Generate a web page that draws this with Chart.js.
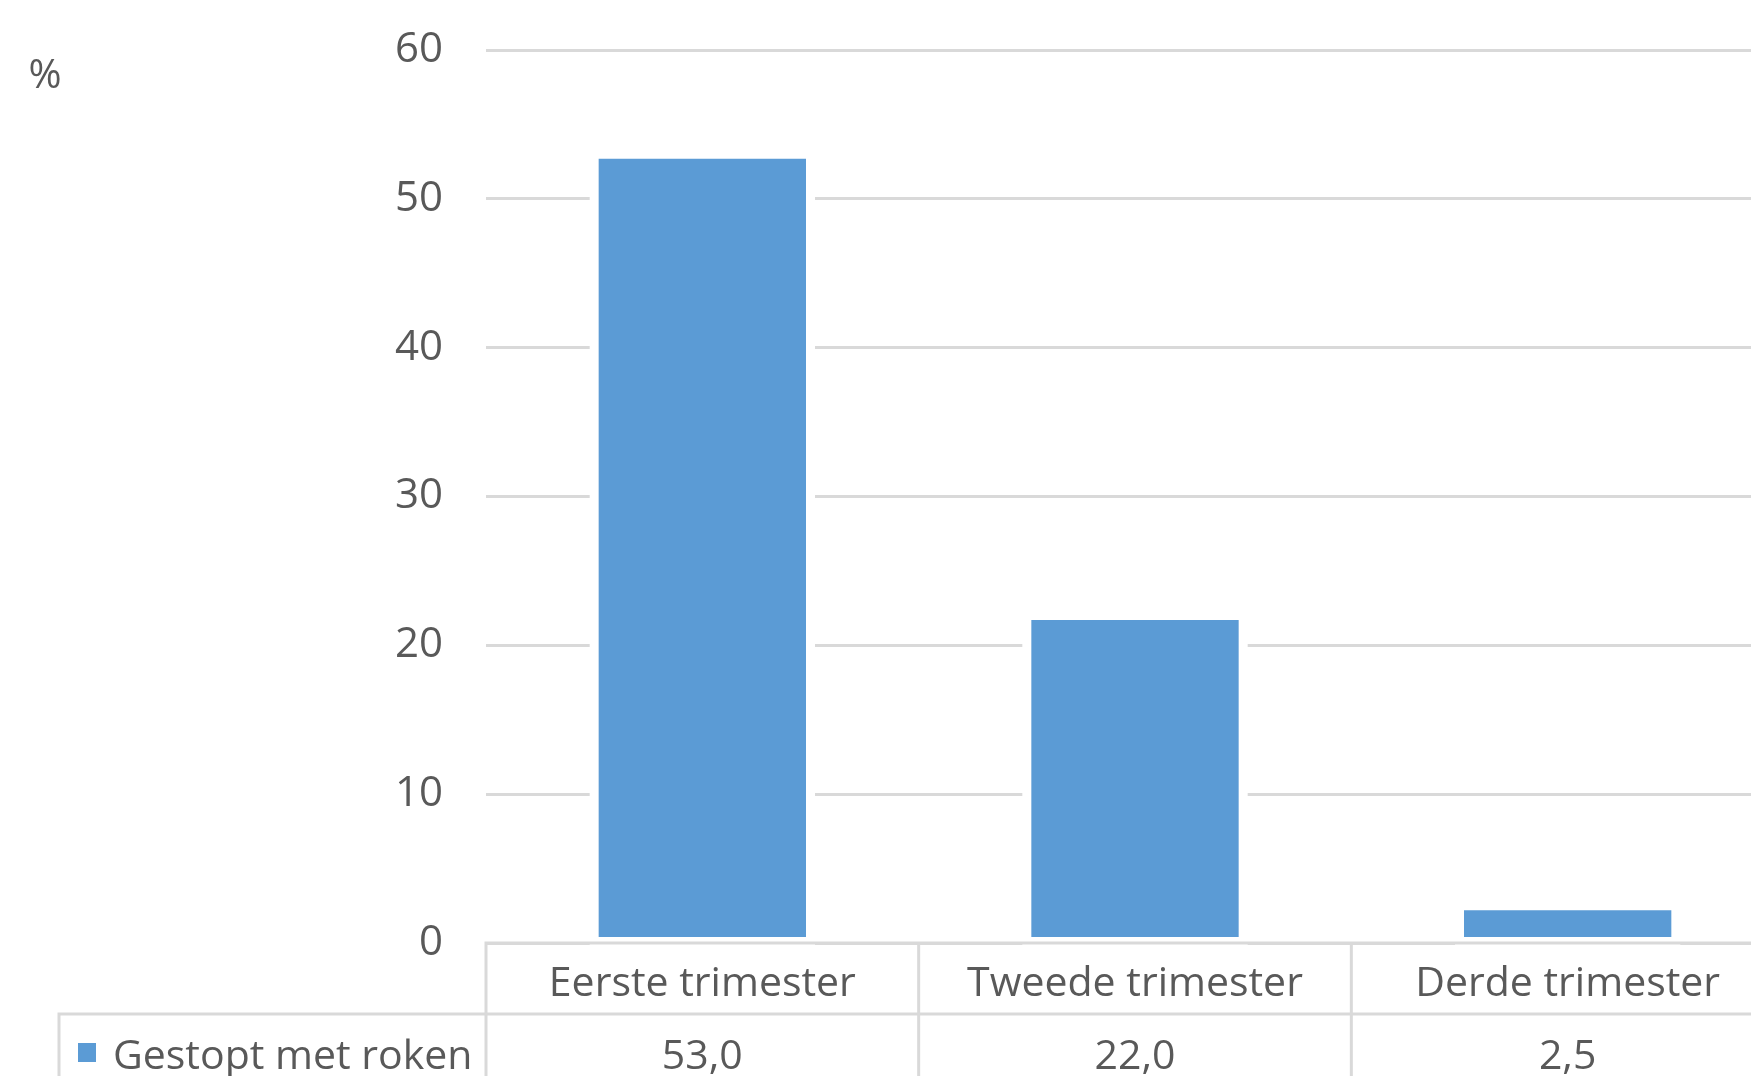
<!DOCTYPE html>
<html><head><meta charset="utf-8">
<script src="https://cdn.jsdelivr.net/npm/chart.js@4"></script>
<style>
html,body{margin:0;padding:0;overflow:hidden;background:#fff;}
#wrap{position:absolute;left:0;top:0;width:1784px;height:1076px;}
</style></head><body>
<div id="wrap"><canvas id="c"></canvas></div>
<script>
const categories = ['Eerste trimester', 'Tweede trimester', 'Derde trimester'];
const seriesName = 'Gestopt met roken';
const values = [53.0, 22.0, 2.5];
const yMin = 0, yMax = 60, yStep = 10;
const unitLabel = '%';

const FONT = '"Open Sans", "DejaVu Sans", sans-serif';
const TXT = '#595959';
const GRID = '#d9d9d9';
const BAR = '#5b9bd5';

function fmt(v) { return v.toFixed(1).replace('.', ','); }

const tablePlugin = {
  id: 'tbl',
  beforeDatasetsDraw(chart) {
    const ctx = chart.ctx;
    const meta = chart.getDatasetMeta(0);
    ctx.save();
    ctx.fillStyle = '#fff';
    meta.data.forEach(el => {
      const p = el.getProps(['x', 'y', 'base', 'width'], true);
      ctx.fillRect(p.x - p.width / 2 - 4.5, Math.min(p.y, p.base) - 4.5, p.width + 9, Math.abs(p.base - p.y) + 9);
    });
    ctx.restore();
  },
  afterDraw(chart) {
    const ctx = chart.ctx;
    const xs = chart.scales.x;
    const W = chart.width;
    const top = chart.chartArea.bottom;
    const rowY = top + 71;
    const n = categories.length;
    const cw = (xs.right - xs.left) / n;
    ctx.save();
    ctx.strokeStyle = GRID;
    ctx.lineWidth = 3;
    ctx.beginPath();
    ctx.moveTo(xs.left - 1.5, top); ctx.lineTo(W, top);
    for (let i = 0; i <= n; i++) {
      const bx = xs.left + i * cw;
      ctx.moveTo(bx, top); ctx.lineTo(bx, chart.height);
    }
    ctx.moveTo(59, rowY); ctx.lineTo(W, rowY);
    ctx.moveTo(59, rowY - 1.5); ctx.lineTo(59, chart.height);
    ctx.stroke();

    ctx.fillStyle = TXT;
    ctx.textBaseline = 'middle';
    ctx.textAlign = 'center';
    ctx.font = '41px ' + FONT;
    categories.forEach((c, i) => {
      const cx = xs.getPixelForValue(i);
      ctx.fillText(c, cx, top + 41);
      ctx.fillText(fmt(values[i]), cx, rowY + 43);
    });
    ctx.textAlign = 'left';
    ctx.fillText(seriesName, 113, rowY + 43);
    ctx.fillStyle = BAR;
    ctx.fillRect(78, rowY + 29, 18, 19);

    ctx.fillStyle = TXT;
    ctx.textAlign = 'center';
    ctx.font = '40px ' + FONT;
    ctx.fillText(unitLabel, 45, 77);
    ctx.restore();
  }
};

new Chart(document.getElementById('c'), {
  type: 'bar',
  data: {
    labels: categories,
    datasets: [{
      label: seriesName,
      data: values,
      backgroundColor: BAR,
      borderColor: '#ffffff',
      borderWidth: 4.5,
      borderSkipped: false,
      inflateAmount: 0,
      categoryPercentage: 0.5,
      barPercentage: 1.0
    }]
  },
  options: {
    responsive: true,
    maintainAspectRatio: false,
    animation: false,
    layout: { padding: { top: 50, bottom: 133, left: 0, right: 0 } },
    plugins: { legend: { display: false }, tooltip: { enabled: false }, title: { display: false } },
    scales: {
      x: { display: false, offset: true },
      y: {
        min: yMin, max: yMax,
        ticks: { stepSize: yStep, color: TXT, font: { family: FONT, size: 42 }, padding: 43 },
        grid: { color: GRID, lineWidth: 3, drawTicks: false },
        border: { display: false },
        afterFit(s) { s.width = 486; s.paddingTop = 25; s.paddingBottom = 25; }
      }
    }
  },
  plugins: [tablePlugin]
});
</script>
</body></html>
